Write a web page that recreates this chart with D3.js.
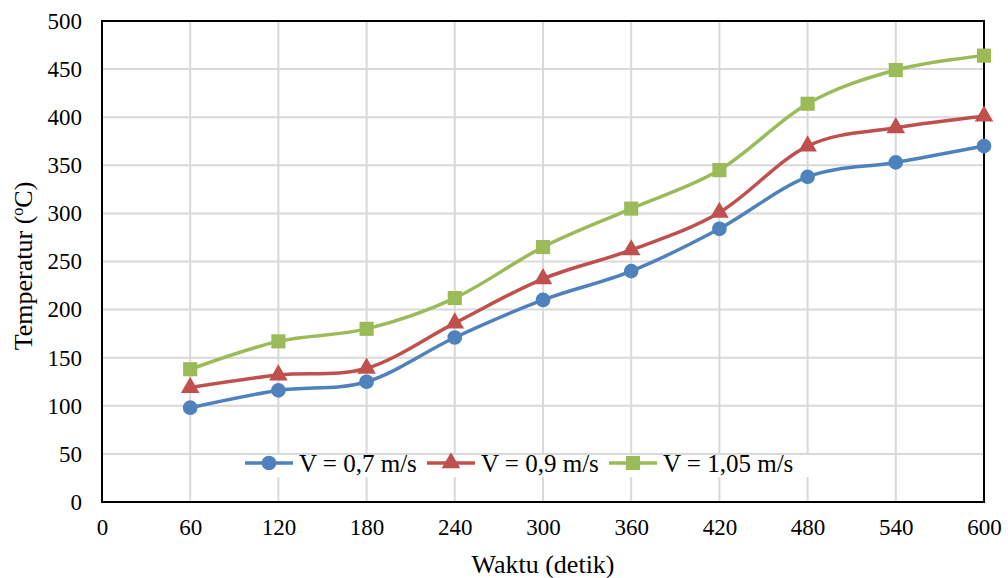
<!DOCTYPE html>
<html>
<head>
<meta charset="utf-8">
<script src="https://cdn.jsdelivr.net/npm/d3@7"></script>
<style>
  body { margin: 0; background: #fff; }
  text { font-family: "Liberation Serif", "Times New Roman", serif; fill: #000; }
</style>
</head>
<body>
<div class="chart"></div>
<script>
const waktu = [60, 120, 180, 240, 300, 360, 420, 480, 540, 600]
const v07 = [98, 116, 125, 171, 210, 240, 284, 338, 353, 370]
const v09 = [119, 132, 139, 186, 232, 262, 301, 370, 389, 401]
const v105 = [138, 167, 180, 212, 265, 305, 345, 414, 449, 464]
const xTicks = [0, 60, 120, 180, 240, 300, 360, 420, 480, 540, 600]
const yTicks = [0, 50, 100, 150, 200, 250, 300, 350, 400, 450, 500]
const seriesNames = ["V = 0,7 m/s", "V = 0,9 m/s", "V = 1,05 m/s"]

const margin = ({top: 21, right: 24, bottom: 76, left: 102})
const W = 1008, H = 578
const width = W - margin.left - margin.right
const height = H - margin.top - margin.bottom

const svg = d3.select('.chart').append('svg')
    .attr("width", W)
    .attr("height", H)

const g = svg.append("g")
    .attr("transform", `translate(${margin.left},${margin.top})`)

const xScale = d3.scaleLinear().domain([0, 600]).range([0, width])
const yScale = d3.scaleLinear().domain([0, 500]).range([height, 0])

// grid
g.append("g").selectAll("line.h").data(yTicks).enter().append("line")
    .attr("x1", 0).attr("x2", width)
    .attr("y1", d => yScale(d)).attr("y2", d => yScale(d))
    .attr("stroke", "#d9d9d9").attr("stroke-width", 2)
g.append("g").selectAll("line.v").data(xTicks).enter().append("line")
    .attr("y1", 0).attr("y2", height)
    .attr("x1", d => xScale(d)).attr("x2", d => xScale(d))
    .attr("stroke", "#d9d9d9").attr("stroke-width", 2)

// axes (labels only)
const xAxis = d3.axisBottom(xScale).tickValues(xTicks).tickSize(0).tickPadding(17)
const yAxis = d3.axisLeft(yScale).tickValues(yTicks).tickSize(0).tickPadding(20)

const gx = g.append("g").attr("transform", `translate(0,${height})`).call(xAxis)
const gy = g.append("g").call(yAxis)
gx.select(".domain").remove()
gy.select(".domain").remove()
gx.selectAll("text").style("font-size", "23px").style("font-family", "Liberation Serif")
gy.selectAll("text").style("font-size", "23px").style("font-family", "Liberation Serif")

// plot border
g.append("rect")
    .attr("x", 0).attr("y", 0).attr("width", width).attr("height", height)
    .attr("fill", "none").attr("stroke", "#000").attr("stroke-width", 2)

const colors = ["#4F81BD", "#C0504D", "#9BBB59"]
const symbols = [d3.symbolCircle, d3.symbolTriangle, d3.symbolSquare]
const symSizes = [170, 150, 200]
const allSeries = [v07, v09, v105]

const line = d3.line()
    .x((d, i) => xScale(waktu[i]))
    .y(d => yScale(d))
    .curve(d3.curveCatmullRom.alpha(0))

allSeries.forEach((vals, k) => {
    g.append("path")
        .datum(vals)
        .attr("d", line)
        .attr("fill", "none")
        .attr("stroke", colors[k])
        .attr("stroke-width", 3.5)
    g.selectAll(".m" + k).data(vals).enter().append("path")
        .attr("class", "m" + k)
        .attr("transform", (d, i) => `translate(${xScale(waktu[i])},${yScale(d)})`)
        .attr("d", d3.symbol().type(symbols[k]).size(symSizes[k]))
        .attr("fill", colors[k])
})

// legend
const legend = svg.append("g")
legend.append("rect")
    .attr("x", 238).attr("y", 455).attr("width", 572).attr("height", 22)
    .attr("fill", "#fff")
const legX = [245, 427, 609]
seriesNames.forEach((name, k) => {
    const lg = legend.append("g").attr("transform", `translate(${legX[k]},463)`)
    lg.append("line").attr("x1", 0).attr("x2", 48).attr("y1", 0).attr("y2", 0)
        .attr("stroke", colors[k]).attr("stroke-width", 3.5)
    lg.append("path").attr("transform", "translate(24,0)")
        .attr("d", d3.symbol().type(symbols[k]).size(symSizes[k]))
        .attr("fill", colors[k])
    lg.append("text").attr("x", 54).attr("y", 9)
        .style("font-size", "25px").text(name)
})

// titles
svg.append("text")
    .attr("x", margin.left + width / 2).attr("y", 573)
    .style("text-anchor", "middle").style("font-size", "26px")
    .text("Waktu (detik)")

const yt = svg.append("text")
    .attr("transform", `translate(32,266) rotate(-90)`)
    .style("text-anchor", "middle").style("font-size", "26px")
yt.append("tspan").text("Temperatur (")
yt.append("tspan").attr("dy", -9).style("font-size", "16px").text("o")
yt.append("tspan").attr("dy", 9).text("C)")
</script>
</body>
</html>
